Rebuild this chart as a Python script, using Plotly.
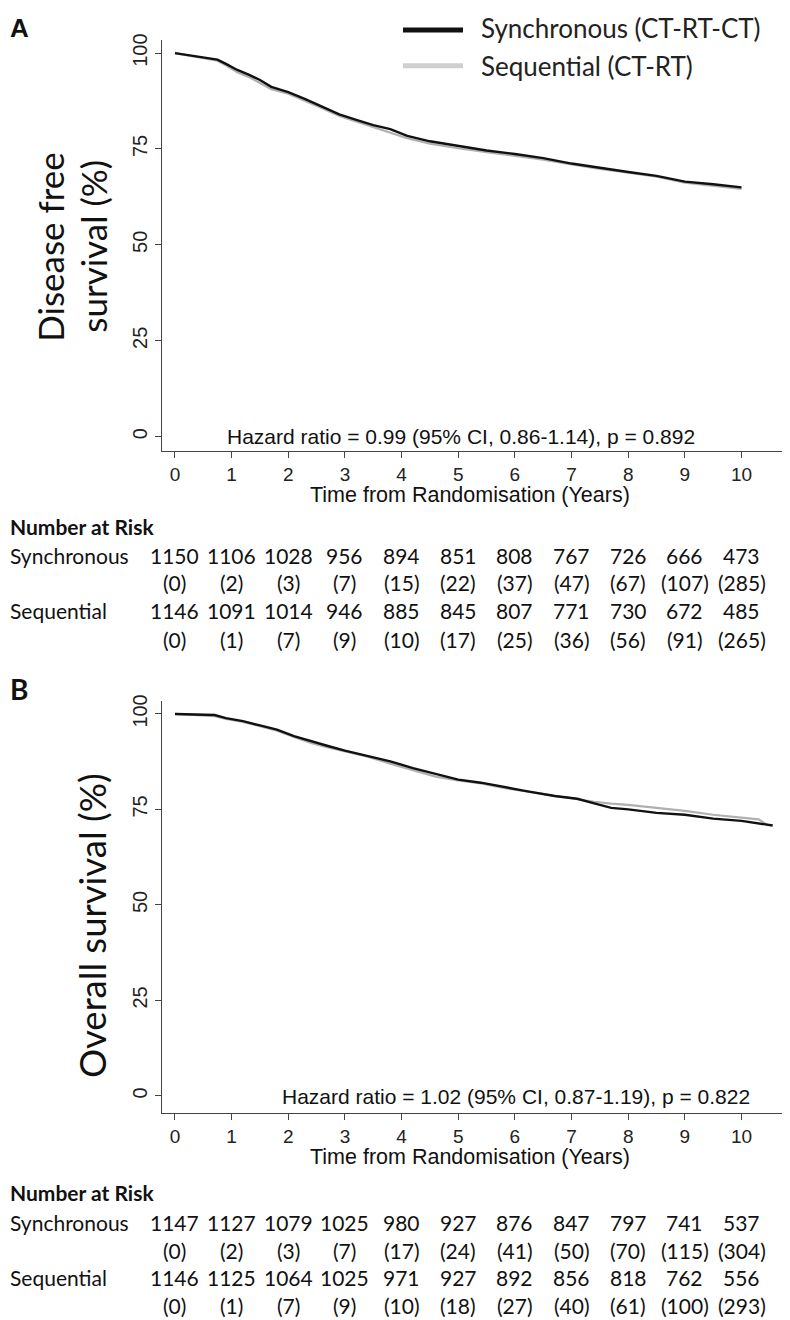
import plotly.graph_objects as go

# ---------------- Data ----------------
x_ticks = [0, 1, 2, 3, 4, 5, 6, 7, 8, 9, 10]
y_ticks = [0, 25, 50, 75, 100]
risk_years = [0, 1, 2, 3, 4, 5, 6, 7, 8, 9, 10]

# Panel A: disease free survival (%)
dfs_time = [0, 0.3, 0.6, 0.75, 0.9, 1.1, 1.3, 1.5, 1.7, 2.0, 2.3, 2.6, 2.9, 3.2, 3.5,
            3.8, 4.1, 4.5, 5.0, 5.5, 6.0, 6.5, 7.0, 7.5, 8.0, 8.5, 9.0, 9.5, 10.0]
dfs_sync = [100, 99.3, 98.6, 98.3, 97.2, 95.6, 94.4, 93.0, 91.2, 89.8, 88.0, 86.0, 84.0, 82.6, 81.2,
            80.2, 78.4, 77.0, 75.8, 74.6, 73.7, 72.6, 71.2, 70.0, 69.0, 68.0, 66.5, 65.8, 65.0]
dfs_seq = [100, 99.2, 98.5, 98.0, 96.8, 95.0, 93.8, 92.3, 90.6, 89.4, 87.6, 85.6, 83.6, 82.2, 80.6,
           79.4, 77.8, 76.4, 75.2, 74.2, 73.2, 72.2, 71.0, 69.8, 68.8, 67.8, 66.2, 65.4, 64.6]

# Panel B: overall survival (%)
os_time_sync = [0, 0.7, 0.9, 1.2, 1.5, 1.8, 2.1, 2.4, 2.7, 3.0, 3.4, 3.8, 4.2, 4.6, 5.0,
                5.4, 5.8, 6.2, 6.7, 7.1, 7.4, 7.7, 8.0, 8.5, 9.0, 9.5, 10.0, 10.3, 10.55]
os_sync = [100, 99.7, 98.9, 98.1, 97.0, 95.9, 94.2, 92.8, 91.6, 90.4, 89.0, 87.6, 85.8, 84.2, 82.8,
           82.0, 80.8, 79.8, 78.5, 77.8, 76.6, 75.4, 75.0, 74.1, 73.6, 72.6, 72.0, 71.3, 70.8]
os_time_seq = [0, 0.7, 0.9, 1.2, 1.5, 1.8, 2.1, 2.4, 2.7, 3.0, 3.4, 3.8, 4.2, 4.6, 5.0,
               5.4, 5.8, 6.2, 6.7, 7.1, 7.4, 7.7, 8.0, 8.5, 9.0, 9.5, 10.0, 10.3, 10.45]
os_seq = [100, 99.4, 98.7, 97.9, 96.8, 95.6, 94.0, 92.4, 91.2, 90.2, 88.8, 87.0, 85.2, 83.6, 82.6,
          81.8, 80.6, 79.7, 78.5, 77.8, 77.0, 76.5, 76.2, 75.4, 74.6, 73.6, 72.9, 72.4, 71.0]

# Numbers at risk (censored in brackets)
dfs_risk_sync = [1150, 1106, 1028, 956, 894, 851, 808, 767, 726, 666, 473]
dfs_cens_sync = [0, 2, 3, 7, 15, 22, 37, 47, 67, 107, 285]
dfs_risk_seq = [1146, 1091, 1014, 946, 885, 845, 807, 771, 730, 672, 485]
dfs_cens_seq = [0, 1, 7, 9, 10, 17, 25, 36, 56, 91, 265]
os_risk_sync = [1147, 1127, 1079, 1025, 980, 927, 876, 847, 797, 741, 537]
os_cens_sync = [0, 2, 3, 7, 17, 24, 41, 50, 70, 115, 304]
os_risk_seq = [1146, 1125, 1064, 1025, 971, 927, 892, 856, 818, 762, 556]
os_cens_seq = [0, 1, 7, 9, 10, 18, 27, 40, 61, 100, 293]

series_names = ["Synchronous (CT-RT-CT)", "Sequential (CT-RT)"]
row_names = ["Synchronous", "Sequential"]
hr_texts = ["Hazard ratio = 0.99 (95% CI, 0.86-1.14), p = 0.892",
            "Hazard ratio = 1.02 (95% CI, 0.87-1.19), p = 0.822"]

# ---------------- Layout helpers ----------------
# the page body adds an 8px margin, so the figure is sized to fill the remaining window
OFF = 8
W, H = 790 - OFF, 1320 - OFF
def px(x):
    return (x - OFF) / W
def py(y):
    return 1 - (y - OFF) / H

BLACK = "#111111"
GREY = "#b0b0b0"
AXIS = "#444444"
ARIAL = "Liberation Sans"
CAL = "Lato"

fig = go.Figure()
fig.add_trace(go.Scatter(x=dfs_time, y=dfs_seq, mode="lines", line=dict(color=GREY, width=2.2),
                         xaxis="x", yaxis="y", name=series_names[1], showlegend=False))
fig.add_trace(go.Scatter(x=dfs_time, y=dfs_sync, mode="lines", line=dict(color=BLACK, width=2.4),
                         xaxis="x", yaxis="y", name=series_names[0], showlegend=False))
fig.add_trace(go.Scatter(x=os_time_seq, y=os_seq, mode="lines", line=dict(color=GREY, width=2.2),
                         xaxis="x2", yaxis="y2", name=series_names[1], showlegend=False))
fig.add_trace(go.Scatter(x=os_time_sync, y=os_sync, mode="lines", line=dict(color=BLACK, width=2.4),
                         xaxis="x2", yaxis="y2", name=series_names[0], showlegend=False))

def xax(anchor):
    return dict(domain=[px(162), px(784)], range=[-0.229, 10.75], tickvals=x_ticks,
                ticks="outside", ticklen=6, tickwidth=1.3, tickcolor=AXIS,
                showline=True, linecolor=AXIS, linewidth=1.3, showgrid=False, zeroline=False,
                tickfont=dict(family=ARIAL, size=19, color="#222"), anchor=anchor, fixedrange=True)

def yax(anchor, top, bottom, rng):
    return dict(domain=[py(bottom), py(top)], range=rng, tickvals=y_ticks, tickangle=-90,
                ticks="outside", ticklen=6, tickwidth=1.3, tickcolor=AXIS,
                showline=True, linecolor=AXIS, linewidth=1.3, showgrid=False, zeroline=False,
                tickfont=dict(family=ARIAL, size=20, color="#222"), anchor=anchor, fixedrange=True)

ann = []
def text(x, y, s, size, family=CAL, xanchor="center", angle=0, color="#111", xref="paper"):
    ann.append(dict(x=x, y=y, xref=xref, yref="paper", text=s, showarrow=False,
                    xanchor=xanchor, yanchor="middle", textangle=angle,
                    font=dict(family=family, size=size, color=color)))

# Panel letters
text(px(8), py(21), "<b>A</b>", 26, family=ARIAL, xanchor="left")
text(px(8), py(686), "<b>B</b>", 28, family=CAL, xanchor="left")

# Y titles
text(px(50), py(241), "Disease free", 35, angle=-90)
text(px(93), py(241), "survival (%)", 35, angle=-90)
text(px(92), py(924), "Overall survival (%)", 36.5, angle=-90)

# Hazard ratio
text(px(461), py(432), hr_texts[0], 21, family=ARIAL)
text(px(516), py(1095), hr_texts[1], 21, family=ARIAL)

# X titles
text(px(470), py(491), "Time from Randomisation (Years)", 21.5, family=ARIAL)
text(px(470), py(1156), "Time from Randomisation (Years)", 21.5, family=ARIAL)

# Legend (manual)
legend_shapes = [
    dict(type="line", xref="paper", yref="paper", x0=px(403), x1=px(463), y0=py(23), y1=py(23),
         line=dict(color=BLACK, width=5)),
    dict(type="line", xref="paper", yref="paper", x0=px(403), x1=px(463), y0=py(59), y1=py(59),
         line=dict(color="#cfcfcf", width=5)),
]
text(px(479), py(21), series_names[0], 26, xanchor="left", color="#222")
text(px(479), py(59), series_names[1], 26, xanchor="left", color="#222")

# Number at risk tables
def risk_table(xref, ys, sync, csync, seq, cseq):
    text(px(8), py(ys[0]), "<b>Number at Risk</b>", 21, xanchor="left")
    text(px(8), py(ys[1]), row_names[0], 21, xanchor="left")
    text(px(8), py(ys[3]), row_names[1], 21, xanchor="left")
    for i, yr in enumerate(risk_years):
        text(yr, py(ys[1]), str(sync[i]), 21, xref=xref)
        text(yr, py(ys[2]), "(%d)" % csync[i], 21, xref=xref)
        text(yr, py(ys[3]), str(seq[i]), 21, xref=xref)
        text(yr, py(ys[4]), "(%d)" % cseq[i], 21, xref=xref)

risk_table("x", [522, 551, 579, 607, 636], dfs_risk_sync, dfs_cens_sync, dfs_risk_seq, dfs_cens_seq)
risk_table("x2", [1192, 1222, 1250, 1277, 1305], os_risk_sync, os_cens_sync, os_risk_seq, os_cens_seq)

fig.update_layout(
    width=W, height=H, margin=dict(l=0, r=0, t=0, b=0),
    paper_bgcolor="white", plot_bgcolor="white", showlegend=False,
    xaxis=xax("y"), yaxis=yax("x", 33, 446, [-3.66, 103.45]),
    xaxis2=xax("y2"), yaxis2=yax("x2", 698, 1112, [-4.5, 103.3]),
    annotations=ann, shapes=legend_shapes, hovermode=False,
)

fig.write_html("out.html")
